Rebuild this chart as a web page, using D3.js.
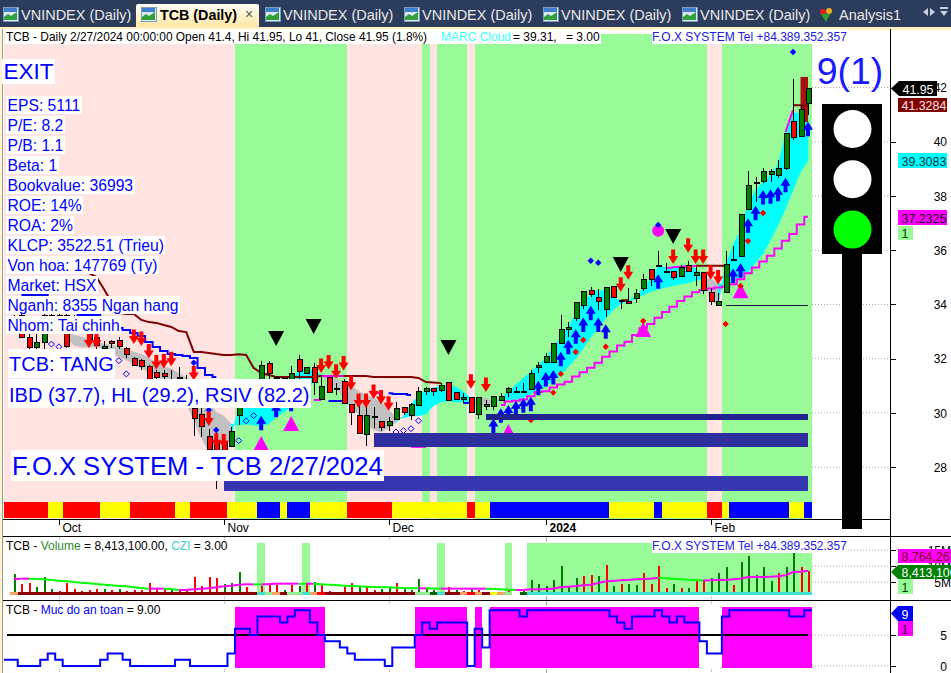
<!DOCTYPE html>
<html><head><meta charset="utf-8">
<script src="https://cdn.jsdelivr.net/npm/d3@7/dist/d3.min.js"></script>
<style>html,body{margin:0;padding:0;background:#fff;overflow:hidden}svg{display:block}
text{font-family:"Liberation Sans",Arial,sans-serif}</style></head><body>
<script>
const opens=[33.2,33.6,32.8,32.4,32.6,33.0,33.6,33.6,33.5,33.2,33.0,32.8,32.37,32.65,32.69,32.38,32.0,31.92,31.7,31.5,31.45,31.1,31.3,31.1,30.17,29.95,29.12,28.9,28.9,28.78,29.9,30.6,30.9,31.2,31.83,31.29,31.27,31.22,31.98,31.46,31.68,30.48,31.31,30.89,31.17,30.32,29.91,29.21,29.88,29.68,29.53,29.77,30.19,29.92,30.29,30.8,30.89,30.81,31.11,30.75,30.5,30.58,29.93,30.23,30.23,30.47,30.76,30.78,30.8,30.87,31.67,31.85,31.85,32.55,33.07,33.49,33.95,34.51,34.26,33.82,34.65,34.13,34.12,34.21,34.58,35.3,35.45,35.23,35.22,35.02,35.45,35.06,35.19,34.45,33.96,34.43,35.64,35.76,37.51,38.5,38.53,38.8,38.75,39.02,40.75,40.2,41.4];
const highs=[33.6,33.8,33.4,32.9,33.7,33.7,33.7,33.7,33.6,33.5,33.3,33.0,32.65,32.7,32.8,32.42,32.05,32.0,31.75,31.6,31.6,31.6,31.71,31.4,30.5,30.3,29.4,29.25,29.1,29.49,30.3,31.0,31.2,31.9,31.9,31.35,31.27,31.73,32.14,31.68,31.84,31.4,31.31,31.09,31.24,30.32,30.55,30.37,30.23,29.68,29.84,30.41,30.19,30.38,30.97,30.97,30.89,31.09,31.11,30.75,30.72,30.58,30.58,30.48,30.61,30.72,30.97,30.97,31.09,31.57,31.87,32.2,32.57,33.61,33.34,34.08,34.48,34.63,34.57,34.63,34.65,34.13,34.6,34.57,35.12,35.3,35.97,35.54,35.22,35.45,35.6,35.37,35.19,34.6,34.41,35.97,36.15,37.3,38.92,38.71,39.02,39.0,39.33,40.31,42.3,41.35,41.95];
const lows=[33.0,32.75,32.35,32.3,32.2,32.9,33.0,32.4,33.0,33.0,32.5,32.35,32.3,32.4,32.37,32.02,31.74,31.6,30.9,31.0,31.0,30.9,31.0,30.4,29.16,29.12,28.4,27.2,27.45,28.78,29.55,30.3,30.6,30.9,31.2,30.9,31.0,31.0,31.25,31.46,30.66,30.48,30.76,30.66,30.35,29.55,29.24,28.78,29.43,29.34,29.34,29.77,29.92,29.74,30.27,30.66,30.62,30.77,30.45,30.5,30.35,30.02,29.79,30.11,30.11,30.47,30.6,30.75,30.8,30.87,31.48,31.83,31.85,32.55,32.81,33.39,33.82,34.26,33.8,33.55,34.25,33.82,34.03,34.06,34.51,34.68,35.39,35.23,34.9,35.0,35.21,34.69,34.39,33.98,33.96,34.41,35.63,35.76,37.48,37.79,38.48,38.53,38.66,38.96,40.06,40.19,41.0];
const closes=[33.4,32.8,32.4,32.6,33.6,33.6,33.1,32.45,33.1,33.1,32.7,32.5,32.46,32.57,32.46,32.16,31.74,31.71,31.2,31.3,31.35,31.0,31.3,30.5,29.78,29.49,28.65,28.4,28.4,29.33,30.23,30.8,31.1,31.76,31.46,31.29,31.27,31.46,31.52,31.68,31.13,30.97,30.76,30.89,30.35,30.0,29.24,29.91,29.88,29.46,29.7,30.17,30.0,30.33,30.78,30.89,30.78,31.0,30.45,30.5,30.56,30.02,30.58,30.33,30.61,30.59,30.91,30.78,30.8,31.46,31.76,32.1,32.57,33.08,33.16,34.08,34.48,34.36,34.1,34.63,34.25,34.13,34.03,34.39,34.93,34.93,35.45,35.23,34.98,35.37,35.21,35.19,34.5,34.1,34.12,35.49,35.64,37.3,38.4,38.5,38.9,38.9,39.02,40.31,40.15,41.2,41.95];
const _=null;
const cloudFast=[_,_,_,_,_,_,_,32.76,32.50,32.43,32.43,32.43,32.36,32.21,32.06,31.95,31.80,31.66,31.51,31.36,31.21,31.10,30.77,30.33,29.74,29.08,28.56,28.26,28.63,29.15,30.22,30.18,30.29,30.55,30.77,30.92,31.10,31.29,31.51,31.66,31.55,31.40,31.14,30.92,30.55,30.18,29.96,29.59,29.37,29.30,29.44,29.66,29.89,30.33,30.62,30.85,30.92,30.99,31.03,30.96,30.77,30.55,30.22,30.26,30.33,30.54,30.78,31.03,31.28,31.52,31.77,32.01,32.44,32.81,33.18,33.67,34.10,34.35,34.53,34.47,34.23,34.16,34.14,34.31,34.59,34.96,35.39,35.37,35.37,35.37,35.39,35.33,35.00,34.14,33.98,35.45,36.19,36.74,37.67,38.22,38.52,38.77,39.14,40.25,41.06,41.06,41.06];
const cloudSlow=[_,_,_,_,_,_,_,32.95,32.87,32.80,32.73,32.62,32.54,32.51,32.43,32.36,32.25,32.17,32.03,31.88,31.73,31.62,31.47,31.29,31.07,30.70,30.40,30.03,29.89,29.59,29.55,29.59,29.55,29.52,29.59,29.85,30.03,30.22,30.40,30.55,31.29,31.40,31.29,31.25,31.18,30.99,30.81,30.66,30.55,30.40,30.14,29.81,29.81,29.89,29.89,29.96,30.26,30.40,30.44,30.40,30.40,30.40,30.59,30.55,30.40,30.48,30.48,30.50,30.57,30.70,30.85,30.97,31.21,31.40,31.71,32.01,32.38,32.81,33.12,33.49,33.80,34.04,34.10,34.23,34.35,34.47,34.56,34.63,34.69,34.75,34.80,34.88,34.93,34.96,34.78,34.75,34.84,35.00,35.21,35.54,35.88,36.38,36.93,37.54,38.22,38.88,39.31];
const lowerBand=[_,_,_,_,_,_,_,_,_,_,_,_,_,_,_,_,_,_,_,_,_,_,_,_,_,_,_,_,_,_,_,_,_,_,_,_,_,_,_,_,_,_,_,_,_,_,_,_,_,_,_,_,_,_,_,_,_,_,_,_,_,_,_,_,_,30.29,30.42,30.45,30.50,30.62,30.77,30.80,30.94,31.05,31.15,31.34,31.50,31.67,31.85,32.07,32.27,32.49,32.63,32.87,33.12,33.28,33.51,33.72,33.92,34.13,34.29,34.45,34.53,34.59,34.63,34.66,34.75,34.93,35.15,35.36,35.58,35.80,36.06,36.35,36.60,36.95,37.23];
const maroonLine=[_,_,_,_,_,_,35.57,35.49,35.42,35.27,35.16,35.01,34.57,34.09,33.69,33.65,33.65,33.43,33.35,33.32,33.24,33.17,33.02,32.98,32.25,32.25,32.21,32.17,32.14,32.14,32.16,32.14,31.66,31.47,31.40,31.33,31.33,31.33,31.33,31.33,31.33,31.36,31.36,31.36,31.36,31.36,31.36,31.36,31.33,31.33,31.33,31.33,31.33,31.33,31.29,31.14,31.12,31.10,_,_,_,_,_,_,_,_,_,_,_,_,_,_,_,_,_,_,_,_,_,_,_,34.16,34.16,_,_,_,_,_,_,_,_,35.43,35.43,35.43,35.43,35.43,_,_,_,_,_,_,_,_,41.35,41.35,41.33];
const blueLine=[_,34.35,34.35,34.35,34.35,33.98,33.9,33.8,33.7,33.61,33.61,33.61,33.35,33.3,33.13,33.06,32.95,32.84,32.62,32.43,32.28,32.17,32.14,32.10,32.03,31.66,31.40,31.33,_,_,_,_,_,_,_,_,_,_,_,_,_,_,30.44,30.44,30.44,_,_,_,_,_,30.73,30.70,30.70,30.66,_,_,_,_,_,_,30.37,30.37,_,_,_,_,_,_,_,_,_,_,_,_,_,_,_,_,_,_,_,_,_,_,_,_,_,_,_,_,_,_,_,_,_,_,_,_,_,_,_,_,_,_,_,_,_];
const magentaSegments=[[[40,30.48],[41,30.48]],[[41,31.36],[44,31.36]],[[48,30.73],[49,30.73]],[[53,28.75],[55,28.75]],[[87,35.33],[88,35.37],[89,35.39],[90,35.41],[91,35.42]],[[103,40.36],[104,41.17]]];
const exitZoneIdx=[105,106],exitZoneTop=[42.39,42.39],exitZoneBottom=[40.73,40.73];
const greenBandRuns=[[30,44],[55,55],[57,60],[62,92],[95,106]];
const supportStart=[63,48,28],supportTop=[29.96,29.26,27.68],supportBottom=[29.74,28.74,27.12];
const supportColors=["#22228f","#2e2e9e","#3636b0"];
const stopLevelStart=95,stopLevelPrice=33.96;
const stripEnds=[4,6,11,15,21,23,28,32,35,36,39,44,50,60,61,63,79,85,86,92,94,95,103,105,106];
const stripColors=["#f00","#ff0","#f00","#ff0","#f00","#ff0","#f00","#ff0","#00f","#ff0","#00f","#ff0","#f00","#ff0","#f00","#ff0","#00f","#ff0","#00f","#ff0","#f00","#ff0","#00f","#ff0","#00f"];
const blueArrowIdx=[33,35,37,64,65,66,67,68,69,70,71,72,73,74,75,76,77,78,79,86,96,97,98,99,100,101,102,103,106];
const blueArrowPrice=[29.90,30.38,30.60,29.80,30.17,30.29,30.45,30.54,30.60,31.19,31.51,31.58,32.26,32.70,33.09,33.52,33.95,33.52,33.27,35.11,35.33,35.52,37.18,37.64,38.22,38.25,38.34,38.67,40.74];
const redArrowIdx=[10,11,16,17,18,19,20,21,24,26,27,28,41,42,43,44,45,46,47,48,49,50,61,63,81,82,88,90,91,92,93,94];
const redArrowPrice=[32.93,32.93,33.08,33.0,32.54,32.14,32.17,32.26,31.73,30.05,29.25,29.22,32.01,32.14,31.80,32.10,31.37,30.72,30.72,31.05,30.85,30.62,31.43,31.31,35.0,35.45,36.03,36.44,36.03,36.03,35.45,35.27];
const blackTriIdx=[35,40,58,81,88],blackTriPrice=[33.02,33.46,32.69,35.75,36.78];
const magentaTriIdx=[33,37,66,84,97],magentaTriPrice=[29.15,29.89,29.59,33.35,34.78];
const magentaDotIdx=[86],magentaDotPrice=[36.72];
const blueDiaIdx=[77,78,86,104,27,26,24],blueDiaPrice=[35.61,35.54,36.93,43.31,29.37,30.11,31.85];
const redDiaIdx=[69,72,73,75,76,79,84,95,97,98,100],redDiaPrice=[29.74,30.75,31.44,32.25,32.69,32.44,33.39,33.28,34.68,36.34,37.37];
const openDiaIdx=[5,6,14,15,30,31,32,51,52,53,54],openDiaPrice=[32.54,32.44,31.93,31.44,28.98,29.71,29.9,29.3,29.35,29.42,29.71];
const volumes=[7.5,4.4,4.6,3.3,6.5,2.7,2.2,4.6,2.7,2.2,2.5,2.7,2.7,2.5,2.7,2.2,2.5,2.5,4.6,3.0,2.7,2.7,2.5,2.5,6.5,3.75,6.5,6.15,4.4,4.6,8.1,3.55,2.0,3.85,4.05,4.05,2.5,4.05,3.75,4.6,5.1,4.3,2.2,2.0,3.55,4.8,3.55,3.75,2.5,2.8,3.0,4.6,3.0,2.5,5.9,3.0,2.5,2.0,3.3,2.5,2.3,3.0,2.5,2.0,2.0,1.65,2.5,1.65,2.2,5.6,4.4,3.75,5.6,10.0,3.85,6.15,6.85,7.2,6.85,10.3,3.75,4.4,4.4,4.05,7.7,4.4,10.0,3.1,4.4,3.1,3.1,5.3,5.3,6.15,7.7,9.6,4.05,11.25,13.1,7.2,9.6,5.3,7.7,9.6,13.95,9.6,8.41];
const volumeDir="grrgggrrrrrrgrgrrrrrrgrrrrrrgggrgrrrgrgrgrrrrrgrrggrgggggrrgrgrgggrrggggggggrrgrgrggrrrrgrgrrgggrgggggrgg".split("");
const volumeMA=[5.94,6.04,6.04,5.94,5.83,5.63,5.42,5.21,5.0,4.79,4.58,4.38,4.17,3.96,3.75,3.65,3.33,3.13,2.92,2.92,2.92,2.81,2.5,2.5,2.71,2.92,3.02,3.33,3.65,3.85,4.17,4.27,4.27,4.22,4.38,4.48,4.48,4.48,4.48,4.43,4.48,4.27,4.17,4.06,3.85,3.75,3.7,3.54,3.44,3.39,3.33,3.23,3.13,3.08,3.02,3.02,2.97,2.92,2.92,2.92,2.92,2.92,2.92,2.92,2.81,2.71,2.6,2.5,2.5,2.71,2.71,2.81,2.92,3.44,3.54,3.75,3.96,4.17,4.69,5.21,5.31,5.52,5.63,5.83,5.94,6.04,6.35,6.15,6.04,5.83,5.73,5.57,5.47,5.52,5.63,5.63,5.83,6.04,6.56,6.56,6.56,6.67,6.77,7.08,8.13,8.23,8.54];
const cziFlagIdx=[33,39,57,66,69,70,71,72,73,74,75,76,77,78,79,80,81,82,83,84,85,86,87,88,89,90,91,92,93,94,95,96,97,98,99,100,101,102,103,104,105,106];
const cziCodes=("odddddddddddddddddddddddddddddddd"+"tgodggtor"+"dddddddddddd"+"ggDtddor"+"odyogwD"+"tttttttttttttttttttttttttttttttttttttt").split("");
const cziPalette={o:"#f4a460",d:"#8b0000",t:"#40e0d0",g:"#90ee90",D:"#006400",y:"#ffff00",r:"#ff0000",w:"#ffffff"};
const safety=[1,0,0,0,1,2,1,0,0,0,0,0,1,2,2,1,0,0,0,0,0,0,1,1,0,0,0,0,0,2,6,6,5,8,8,8,7,8,9,9,7,5,4,4,3,2,1,1,1,1,0,3,3,3,5,7,6,7,7,7,7,0,6,3,9,9,9,9,8,9,9,9,9,9,9,9,9,9,9,9,8,7,6,8,8,8,9,8,7,8,7,7,4,2,2,8,9,9,9,9,9,9,9,9,8,8,9];
const safetyThreshold=5;
const monthLabels=["Oct","Nov","Dec","2024","Feb"],monthIdx=[6,28,50,71,93];
const priceTicks=[28,30,32,34,36,38,40,42];
const volumeTicks=[5,10,15],safetyTicks=[0,5];
const fundamentals=["EPS: 5111","P/E: 8.2","P/B: 1.1","Beta: 1","Bookvalue: 36993","ROE: 14%","ROA: 2%","KLCP: 3522.51 (Trieu)","Von hoa: 147769 (Ty)","Market: HSX","Nganh: 8355 Ngan hang","Nhom: Tai chinh"];
const tabLabels=["VNINDEX (Daily)","TCB (Daily)","VNINDEX (Daily)","VNINDEX (Daily)","VNINDEX (Daily)","VNINDEX (Daily)","Analysis1"];

const W=951,H=673,L=4,R=812;
const svg=d3.select("body").append("svg").attr("width",W).attr("height",H).attr("viewBox",`0 0 ${W} ${H}`);
const x=d3.scaleLinear().domain([0,106]).range([14,808]);
const y=d3.scaleLinear().domain([42,28]).range([87.5,467.2]);
const yV=d3.scaleLinear().domain([0,15]).range([598,550]);
const yS=d3.scaleLinear().domain([0,9]).range([666,610.2]);
const hw=3.745;
const crisp=s=>s.attr("shape-rendering","crispEdges");

// window chrome
const chrome=svg.append("g");
crisp(chrome.append("rect").attr("width",W).attr("height",27).attr("fill","#2c3c5c"));
crisp(chrome.append("rect").attr("y",27).attr("width",W).attr("height",3).attr("fill","#fff0c4"));
const grad=svg.append("defs").append("linearGradient").attr("id","tab").attr("x2",0).attr("y2",1);
grad.append("stop").attr("offset",0).attr("stop-color","#fffdf2");
grad.append("stop").attr("offset",1).attr("stop-color","#ffe6a4");
chrome.append("path").attr("d","M136,27V6Q136,4 138,4H257Q259,4 259,6V27Z").attr("fill","url(#tab)");
const tabX=[21,160,283,422,561,700,839],iconX=[3,141,265,404,543,682];
iconX.forEach(ix=>{
  const g=chrome.append("g").attr("transform",`translate(${ix},7)`);
  crisp(g.append("rect").attr("width",15).attr("height",14).attr("fill","#dce8f6").attr("stroke","#7f9db9"));
  crisp(g.append("rect").attr("x",1).attr("y",1).attr("width",13).attr("height",4).attr("fill","#3f7fd0"));
  g.append("path").attr("d","M1,13V10L5,7L8,9L14,5V13Z").attr("fill","#2fa03a");
});
tabLabels.forEach((t,i)=>{
  const active=i===1;
  chrome.append("text").attr("x",tabX[i]).attr("y",20).attr("font-size",active?14.3:14.5)
    .attr("font-weight",active?"bold":"normal").attr("fill",active?"#000":"#e8e8e8").text(t);
});
chrome.append("text").attr("x",249).attr("y",19).attr("text-anchor","middle").attr("font-size",14).attr("fill","#555").text("×");
chrome.append("circle").attr("cx",823).attr("cy",12).attr("r",3).attr("fill","#e02020");
chrome.append("circle").attr("cx",829).attr("cy",11).attr("r",3).attr("fill","#f0b020");
chrome.append("path").attr("d","M821,14L830,14L826,22Z").attr("fill","#30a030");
chrome.append("path").attr("d","M914,8L914,16L909,12Z M916,8L916,16L921,12Z M926,11H934L930,16Z M926,7H934V9H926Z").attr("transform","translate(14,0)").attr("fill","#c8d0dc");

// main panel
crisp(svg.append("rect").attr("x",L).attr("y",34).attr("width",R-L).attr("height",485).attr("fill","#ffe4e1"));
crisp(svg.append("g").selectAll("rect").data(greenBandRuns).join("rect")
  .attr("x",d=>x(d[0])-hw).attr("width",d=>x(d[1])-x(d[0])+2*hw).attr("y",34).attr("height",485).attr("fill","#98fb98"));
// price grid + axis
const grid=svg.append("g").attr("stroke","#aaa").attr("stroke-dasharray","1,2");
grid.selectAll("line.p").data(priceTicks).join("line").attr("x1",R).attr("x2",890).attr("y1",d=>y(d)).attr("y2",d=>y(d));
grid.selectAll("line.v").data(volumeTicks).join("line").attr("class","v").attr("x1",812).attr("x2",890).attr("y1",d=>yV(d)).attr("y2",d=>yV(d));
grid.selectAll("line.s").data(safetyTicks).join("line").attr("class","s").attr("x1",812).attr("x2",890).attr("y1",d=>yS(d)).attr("y2",d=>yS(d));

// colour strip
const stripStart=i=>i===0?L:x(stripEnds[i-1])+hw;
crisp(svg.append("g").selectAll("rect").data(stripEnds).join("rect")
  .attr("x",(d,i)=>stripStart(i)).attr("width",(d,i)=>x(d)+hw-stripStart(i)).attr("y",502).attr("height",16).attr("fill",(d,i)=>stripColors[i]));

// cloud
const idx=d3.range(107);
const cloud=svg.append("g");
const cloudArea=d3.area().x(i=>x(i)).y0(i=>y(cloudFast[i])).y1(i=>y(cloudSlow[i]));
idx.slice(0,-1).forEach(i=>{
  if(cloudFast[i]==null||cloudFast[i+1]==null)return;
  const bull=cloudFast[i+1]>=cloudSlow[i+1];
  cloud.append("path").attr("d",cloudArea([i,i+1])).attr("fill",bull?"#00ffff":"#c0c0c0").attr("stroke",bull?"#00ffff":"#c0c0c0").attr("stroke-width",0.4);
});
svg.append("path").attr("d",d3.area().x((d,k)=>x(exitZoneIdx[k])).y0((d,k)=>y(exitZoneTop[k])).y1((d,k)=>y(exitZoneBottom[k]))(exitZoneIdx)).attr("fill","#a51010");

// lines
const seg=d3.line().defined(d=>d!=null).x((d,i)=>x(i)).y(d=>y(d));
const lines=svg.append("g").attr("fill","none").attr("stroke-linejoin","miter");
lines.append("path").attr("d",seg(maroonLine)).attr("stroke","#800000").attr("stroke-width",2);
lines.append("path").attr("d",d3.line().defined(d=>d!=null).curve(d3.curveStep).x((d,i)=>x(i)).y(d=>y(d))(blueLine)).attr("stroke","#0000ff").attr("stroke-width",2);
magentaSegments.forEach(s=>lines.append("path").attr("d",d3.line().x(d=>x(d[0])).y(d=>y(d[1]))(s)).attr("stroke","#ff00ff").attr("stroke-width",2));
lines.append("path").attr("d",d3.line().defined(d=>d!=null).curve(d3.curveStep).x((d,i)=>x(i)).y(d=>y(d))(lowerBand)).attr("stroke","#ff00ff").attr("stroke-width",2);

// markers under candles
const tri=(g,xs,ps,fn,fill)=>g.selectAll(null).data(xs).join("path").attr("d",(d,k)=>fn(x(d),y(ps[k]))).attr("fill",fill);
const marks=svg.append("g");
tri(marks,magentaTriIdx,magentaTriPrice,(a,b)=>`M${a},${b}L${a+8},${b+15}H${a-8}Z`,"#ff00ff");
tri(marks,blackTriIdx,blackTriPrice,(a,b)=>`M${a-8},${b}H${a+8}L${a},${b+15}Z`,"#000");
marks.selectAll(null).data(magentaDotIdx).join("circle").attr("cx",d=>x(d)).attr("cy",(d,k)=>y(magentaDotPrice[k])).attr("r",6).attr("fill","#ff00ff");
const dia=(g,xs,ps,r,fill,stroke)=>g.selectAll(null).data(xs).join("path").attr("d",(d,k)=>{const a=x(d),b=y(ps[k]);return `M${a},${b-r}L${a+r},${b}L${a},${b+r}L${a-r},${b}Z`}).attr("fill",fill).attr("stroke",stroke);
dia(marks,redDiaIdx,redDiaPrice,3.2,"#f00","none");
dia(marks,blueDiaIdx,blueDiaPrice,3.2,"#00f","none");
dia(marks,openDiaIdx,openDiaPrice,3,"none","#00f");

// candles
const cndl=svg.append("g").attr("shape-rendering","crispEdges");
const cx=i=>Math.round(x(i));
cndl.selectAll("line").data(idx).join("line").attr("x1",i=>cx(i)+.5).attr("x2",i=>cx(i)+.5).attr("y1",i=>y(highs[i])).attr("y2",i=>y(lows[i])).attr("stroke","#000");
cndl.selectAll("rect").data(idx).join("rect")
  .attr("x",i=>cx(i)-2).attr("width",5)
  .attr("y",i=>y(Math.max(opens[i],closes[i])))
  .attr("height",i=>Math.max(1,Math.abs(y(opens[i])-y(closes[i]))))
  .attr("fill",i=>closes[i]>=opens[i]?"#008000":"#ff0000").attr("stroke","#000");

// arrows
const arrows=svg.append("g");
arrows.selectAll(null).data(blueArrowIdx).join("path")
  .attr("d",(d,k)=>{const a=x(d),b=y(blueArrowPrice[k]);return `M${a},${b}L${a+5},${b+8}H${a+2}V${b+14.5}H${a-2}V${b+8}H${a-5}Z`}).attr("fill","#0000ff");
arrows.selectAll(null).data(redArrowIdx).join("path")
  .attr("d",(d,k)=>{const a=x(d),b=y(redArrowPrice[k]);return `M${a-2},${b}H${a+2}V${b+6.5}H${a+5}L${a},${b+14.5}L${a-5},${b+6.5}H${a-2}Z`}).attr("fill","#ff0000");

// support bars
crisp(svg.append("g").selectAll("rect").data(supportStart).join("rect")
  .attr("x",d=>x(d)).attr("width",d=>x(106)-x(d)).attr("y",(d,k)=>y(supportTop[k])).attr("height",(d,k)=>y(supportBottom[k])-y(supportTop[k])).attr("fill",(d,k)=>supportColors[k]));
crisp(svg.append("line").attr("x1",x(stopLevelStart)).attr("x2",x(106)).attr("y1",y(stopLevelPrice)).attr("y2",y(stopLevelPrice)).attr("stroke","#101040"));

// text overlays with white boxes
const over=svg.append("g");
function boxed(t,xx,base,size,top,h,fill="#0000ff",pad=1.5){
  const box=crisp(over.append("rect").attr("fill","#fff"));
  const te=over.append("text").attr("x",xx).attr("y",base).attr("font-size",size).attr("fill",fill).text(t);
  const w=te.node().getComputedTextLength();
  box.attr("x",xx-pad).attr("y",top).attr("width",w+2*pad).attr("height",h);
  return te;
}
boxed("EXIT",3.5,79,22.5,59,25);
fundamentals.forEach((t,i)=>boxed(t,7.5,111+20*i,15.7,96+20*i,18));
boxed("TCB: TANG",9,371,20,349,29);
boxed("IBD (37.7), HL (29.2), RSIV (82.2)",9,402,20,379,29);
boxed("F.O.X SYSTEM - TCB 2/27/2024",12,475,25.6,450,31);
// header
crisp(over.append("rect").attr("x",5).attr("y",29).attr("width",596).attr("height",15).attr("fill","#fff"));
over.append("text").attr("x",6).attr("y",41).attr("font-size",11.9).attr("fill","#000").text("TCB - Daily 2/27/2024 00:00:00 Open 41.4, Hi 41.95, Lo 41, Close 41.95 (1.8%)");
over.append("text").attr("x",441).attr("y",41).attr("font-size",12).attr("fill","#40ffff").text("MARC Cloud");
over.append("text").attr("x",513).attr("y",41).attr("font-size",12).attr("fill","#000").text("= 39.31,");
over.append("text").attr("x",566).attr("y",41).attr("font-size",12).attr("fill","#000").text("= 3.00");
crisp(over.append("rect").attr("x",812).attr("y",30).attr("width",78).attr("height",14).attr("fill","#fff"));
boxed("F.O.X SYSTEM Tel +84.389.352.357",652,41,12,29,15,"#2020e0",0);

// traffic light and 9(1)
const tl=svg.append("g");
crisp(tl.append("rect").attr("x",842).attr("y",250).attr("width",20).attr("height",279).attr("fill","#000"));
crisp(tl.append("rect").attr("x",822).attr("y",104).attr("width",60).attr("height",150).attr("fill","#000"));
["#fff","#fff","#00ff00"].forEach((c,i)=>tl.append("circle").attr("cx",852.5).attr("cy",129+50.3*i).attr("r",19).attr("fill",c));
tl.append("text").attr("x",850).attr("y",84).attr("text-anchor","middle").attr("font-size",37.5).attr("fill","#1a1aff").text("9(1)");

// frame lines
const frame=crisp(svg.append("g").attr("stroke","#000"));
frame.append("line").attr("x1",2).attr("x2",890).attr("y1",519.5).attr("y2",519.5);
frame.append("line").attr("x1",2).attr("x2",W).attr("y1",536.5).attr("y2",536.5);
frame.append("line").attr("x1",2).attr("x2",W).attr("y1",600.5).attr("y2",600.5);
frame.append("line").attr("x1",890.5).attr("x2",890.5).attr("y1",29).attr("y2",H);
frame.append("line").attr("x1",2.5).attr("x2",2.5).attr("y1",29).attr("y2",H).attr("stroke","#999");
crisp(svg.append("rect").attr("x",0).attr("y",29).attr("width",2).attr("height",H-29).attr("fill","#fff3d0"));

// months
const months=svg.append("g");
monthIdx.forEach((m,k)=>{
  const px=Math.round(x(m))+.5;
  crisp(months.append("line").attr("x1",px).attr("x2",px).attr("y1",519).attr("y2",525).attr("stroke","#000"));
  months.append("text").attr("x",px+3).attr("y",532).attr("font-size",12).attr("font-weight",monthLabels[k]==="2024"?"bold":"normal").attr("fill","#000").text(monthLabels[k]);
  [[537,541],[596,600],[601,605],[669,673]].forEach(r=>months.append("line").attr("x1",px).attr("x2",px).attr("y1",r[0]).attr("y2",r[1]).attr("stroke","#aaa").attr("stroke-dasharray",monthLabels[k]==="2024"?null:"1,1"));
});

// volume panel
const vol=svg.append("g");
crisp(vol.selectAll("rect.f").data(cziFlagIdx).join("rect").attr("class","f")
  .attr("x",d=>x(d)-hw).attr("width",2*hw+.1).attr("y",543).attr("height",52).attr("fill","#98fb98"));
crisp(vol.selectAll("line.b").data(idx).join("line").attr("class","b")
  .attr("x1",i=>cx(i)+.5).attr("x2",i=>cx(i)+.5).attr("y1",i=>yV(volumes[i])).attr("y2",592)
  .attr("stroke",i=>volumeDir[i]==="g"?"#008000":"#ff0000").attr("stroke-width",2));
idx.slice(0,-1).forEach(i=>{
  vol.append("line").attr("x1",x(i)).attr("x2",x(i+1)).attr("y1",yV(volumeMA[i])).attr("y2",yV(volumeMA[i+1]))
    .attr("stroke",volumeMA[i+1]>=volumeMA[i]?"#ff00ff":"#00ff00").attr("stroke-width",2);
});
crisp(vol.selectAll("rect.c").data(idx).join("rect").attr("class","c")
  .attr("x",i=>x(i)-hw).attr("width",2*hw+.1).attr("y",592).attr("height",3).attr("fill",i=>cziPalette[cziCodes[i]]));
const vt=vol.append("text").attr("x",6).attr("y",550).attr("font-size",12).attr("fill","#000");
vt.append("tspan").text("TCB - ");
vt.append("tspan").attr("fill","#2e8b2e").text("Volume");
vt.append("tspan").text(" = 8,413,100.00, ");
vt.append("tspan").attr("fill","#40d0d0").text("CZI");
vt.append("tspan").text(" = 3.00");
over.node().parentNode.appendChild(over.node());
boxed("F.O.X SYSTEM Tel +84.389.352.357",652,550,12,540,13,"#2020e0",0);

// safety panel
const saf=svg.append("g");
crisp(saf.selectAll("rect").data(idx.filter(i=>safety[i]>=safetyThreshold)).join("rect")
  .attr("x",i=>x(i)-hw).attr("width",2*hw+.1).attr("y",607).attr("height",61).attr("fill","#ff00ff"));
crisp(saf.append("line").attr("x1",7).attr("x2",x(106)).attr("y1",yS(safetyThreshold)).attr("y2",yS(safetyThreshold)).attr("stroke","#000").attr("stroke-width",2));
const stepPts=[[L,safety[0]]].concat(idx.map(i=>[x(i)-hw,safety[i]])).concat([[R,safety[106]]]);
saf.append("path").attr("d",d3.line().curve(d3.curveStepAfter).x(d=>d[0]).y(d=>yS(d[1]))(stepPts)).attr("fill","none").attr("stroke","#0000ff").attr("stroke-width",2);
const st=saf.append("text").attr("x",6).attr("y",614).attr("font-size",12).attr("fill","#000");
st.append("tspan").text("TCB - ");
st.append("tspan").attr("fill","#0000ff").text("Muc do an toan");
st.append("tspan").text(" = 9.00");

// right axes
function axisOf(scale,ticks,fmt,right){
  const g=svg.append("g").attr("transform","translate(890.5,0)").call(d3.axisRight(scale).tickValues(ticks).tickSize(5).tickFormat(fmt));
  g.select(".domain").remove();
  g.selectAll("line").attr("stroke","#000").attr("shape-rendering","crispEdges");
  g.selectAll("text").attr("text-anchor","end").attr("x",right-890.5).attr("dy","0.35em").attr("font-size",12).attr("font-family",'"Liberation Sans",Arial,sans-serif').attr("fill","#000");
  return g;
}
axisOf(y,priceTicks,d3.format("d"),947);
axisOf(yV,volumeTicks,d=>d+"M",951);
axisOf(yS,safetyTicks,d3.format("d"),947);

// value tags
const tags=svg.append("g");
function tag(txt,bg,fg,top,h,x0,x1,ptr){
  const mid=top+h/2;
  if(ptr) tags.append("path").attr("d",`M${ptr},${mid}L${x0},${top}H${x1}V${top+h}H${x0}Z`).attr("fill",bg);
  else crisp(tags.append("rect").attr("x",x0).attr("y",top).attr("width",x1-x0).attr("height",h).attr("fill",bg));
  tags.append("text").attr("x",x0+3.5).attr("y",top+h-2.5).attr("font-size",12.4).attr("fill",fg).text(txt);
}
tag("41.95","#000","#fff",81,15,899,937,891);
tag("41.3284","#800000","#ffe8e8",98,14,898,947);
tag("39.3083","#00ffff","#003040",153,15,898,947);
tag("37.2325","#ff00ff","#200020",210,15,898,947);
tag("1","#98fb98","#004000",226,14,898,913);
tag("8,764,267","#ff00ff","#800020",549,14,898,951);
tag("8,413,100","#008000","#fff",565,14,898,951,891);
tag("1","#98fb98","#004000",579,15,898,913);
tag("9","#0000ff","#fff",606,15,898,913,891);
tag("1","#ff00ff","#400040",621,15,898,913);
</script>
</body></html>
